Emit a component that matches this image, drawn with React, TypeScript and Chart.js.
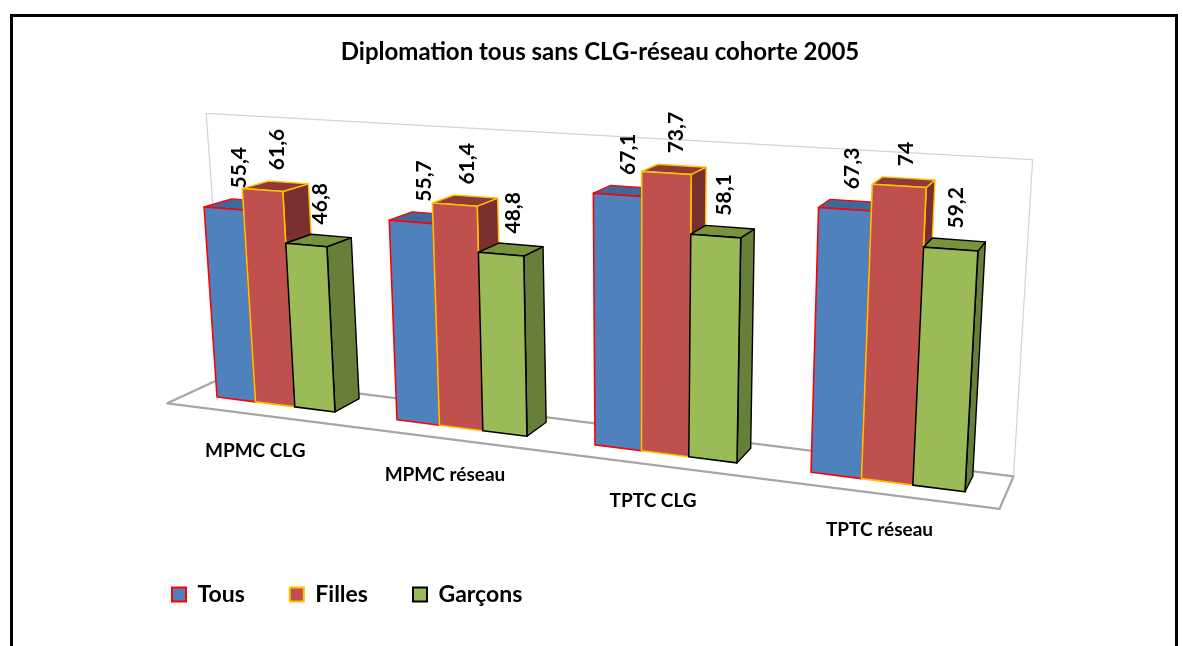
import { useEffect, useRef } from "react";
import { Chart, registerables } from "chart.js";

Chart.register(...registerables);

// ---- data ----
const categories = ["MPMC CLG", "MPMC réseau", "TPTC CLG", "TPTC réseau"];
const seriesNames = ["Tous", "Filles", "Garçons"];
const tous = [55.4, 55.7, 67.1, 67.3];
const filles = [61.6, 61.4, 73.7, 74];
const garcons = [46.8, 48.8, 58.1, 59.2];
const valueMin = 0;
const valueMax = 80;
const chartTitle = "Diplomation tous sans CLG-réseau cohorte 2005";

// ---- styles ----
const seriesStyles = [
  { front: "#4F81BD", top: "#3D6A9C", side: "#2F5686", edge: "#FF0000" },
  { front: "#C0504D", top: "#8E3A38", side: "#79302E", edge: "#FFC000" },
  { front: "#9BBB59", top: "#77933C", side: "#66803A", edge: "#000000" },
];
const FONT = "Lato";

// ---- 3D projection parameters (screen geometry of the perspective scene) ----
const GEO = {
  baseX0: 188.75,
  baseX1: 168,
  baseX2: 9,
  refX: 217,
  refY: 397,
  floorSlope: 0.1267,
  unitH0: 3.43,
  unitH1: 0.00085,
  lean0: -0.068,
  lean1: 0.0001627,
  vpX: 1263,
  vpY: -103,
  floorFront: -0.02,
  barBack: 0.026,
  wall: 0.034,
  labelDrop: 36,
  valueGap: 16,
};

function frontPt(xw: number, v: number) {
  const sx = GEO.baseX0 + GEO.baseX1 * xw + GEO.baseX2 * xw * xw;
  const sy = GEO.refY + GEO.floorSlope * (sx - GEO.refX);
  const h = v * (GEO.unitH0 + GEO.unitH1 * (sx - GEO.refX));
  const lean = GEO.lean0 + GEO.lean1 * (sx - GEO.refX);
  return { x: sx + lean * h, y: sy - h };
}

function pt(xw: number, v: number, d: number) {
  const p = frontPt(xw, v);
  return { x: p.x + d * (GEO.vpX - p.x), y: p.y + d * (GEO.vpY - p.y) };
}

function poly(ctx: CanvasRenderingContext2D, pts: { x: number; y: number }[], fill: string | null, stroke: string | null, lw: number) {
  ctx.beginPath();
  ctx.moveTo(pts[0].x, pts[0].y);
  for (let i = 1; i < pts.length; i++) ctx.lineTo(pts[i].x, pts[i].y);
  ctx.closePath();
  if (fill) {
    ctx.fillStyle = fill;
    ctx.fill();
  }
  if (stroke) {
    ctx.strokeStyle = stroke;
    ctx.lineWidth = lw;
    ctx.stroke();
  }
}

const fmt = (v: number) => String(v).replace(".", ",");

const scenePlugin = {
  id: "scene3d",
  beforeDatasetDraw() {
    return false;
  },
  afterDatasetsDraw(chart: any) {
    const ctx: CanvasRenderingContext2D = chart.ctx;
    const area = chart.chartArea;
    const xScale = chart.scales.x;
    const yScale = chart.scales.y;
    const n = chart.data.labels.length;
    const toXw = (px: number) => ((px - area.left) / (area.right - area.left)) * n;
    const vTop = yScale.max;
    const vBot = yScale.min;

    ctx.save();
    ctx.lineJoin = "round";

    // back wall
    poly(
      ctx,
      [pt(0, vBot, GEO.wall), pt(n, vBot, GEO.wall), pt(n, vTop, GEO.wall), pt(0, vTop, GEO.wall)],
      "#FFFFFF",
      "#D4D4D4",
      1.2
    );
    // floor
    poly(
      ctx,
      [pt(0, vBot, GEO.floorFront), pt(n, vBot, GEO.floorFront), pt(n, vBot, GEO.wall), pt(0, vBot, GEO.wall)],
      "#FFFFFF",
      "#A6A6A6",
      2.2
    );

    const labelsToDraw: { x: number; y: number; t: string }[] = [];
    // bars, left to right
    for (let i = 0; i < n; i++) {
      for (let d = 0; d < chart.data.datasets.length; d++) {
        const meta = chart.getDatasetMeta(d);
        const el = meta.data[i];
        if (!el) continue;
        const xl = toXw(el.x - el.width / 2);
        const xr = toXw(el.x + el.width / 2);
        const v = yScale.getValueForPixel(el.y);
        const b = yScale.getValueForPixel(el.base);
        const st = seriesStyles[d];
        const B = GEO.barBack;
        poly(ctx, [pt(xr, b, 0), pt(xr, v, 0), pt(xr, v, B), pt(xr, b, B)], st.side, st.edge, 1.4);
        poly(ctx, [pt(xl, v, 0), pt(xr, v, 0), pt(xr, v, B), pt(xl, v, B)], st.top, st.edge, 1.4);
        poly(ctx, [pt(xl, b, 0), pt(xr, b, 0), pt(xr, v, 0), pt(xl, v, 0)], st.front, st.edge, 1.6);
        const c = pt((xl + xr) / 2, v, B / 2);
        labelsToDraw.push({ x: c.x + 2, y: c.y, t: fmt(chart.data.datasets[d].data[i]) });
      }
    }

    // value labels (rotated)
    ctx.fillStyle = "#000";
    ctx.font = `bold 21px ${FONT}`;
    ctx.textAlign = "left";
    ctx.textBaseline = "middle";
    for (const l of labelsToDraw) {
      ctx.save();
      ctx.translate(l.x, l.y - GEO.valueGap);
      ctx.rotate(-Math.PI / 2);
      ctx.fillText(l.t, 0, 0);
      ctx.restore();
    }

    // category labels
    ctx.font = `bold 19px ${FONT}`;
    ctx.textAlign = "center";
    ctx.textBaseline = "middle";
    for (let i = 0; i < n; i++) {
      const cx = toXw(xScale.getPixelForValue(i));
      const p = pt(cx, vBot, GEO.floorFront);
      ctx.fillText(chart.data.labels[i], p.x, p.y + GEO.labelDrop);
    }
    ctx.restore();
  },
};

export default function App() {
  const ref = useRef<HTMLCanvasElement>(null);
  useEffect(() => {
    const chart = new Chart(ref.current as HTMLCanvasElement, {
      type: "bar",
      data: {
        labels: categories,
        datasets: [
          { label: seriesNames[0], data: tous, backgroundColor: seriesStyles[0].front, borderColor: seriesStyles[0].edge },
          { label: seriesNames[1], data: filles, backgroundColor: seriesStyles[1].front, borderColor: seriesStyles[1].edge },
          { label: seriesNames[2], data: garcons, backgroundColor: seriesStyles[2].front, borderColor: seriesStyles[2].edge },
        ],
      },
      options: {
        responsive: true,
        maintainAspectRatio: false,
        animation: false,
        events: [],
        layout: { padding: { left: 127, right: 110, top: 0, bottom: 30 } },
        datasets: { bar: { categoryPercentage: 2 / 3, barPercentage: 1 } },
        scales: {
          x: { display: false },
          y: { display: false, min: valueMin, max: valueMax },
        },
        plugins: {
          tooltip: { enabled: false },
          title: {
            display: true,
            text: chartTitle,
            color: "#000",
            font: { family: FONT, size: 24, weight: "bold" },
            padding: { top: 38, bottom: 10 },
          },
          legend: {
            position: "bottom",
            align: "start",
            labels: {
              boxWidth: 14,
              boxHeight: 14,
              padding: 45,
              color: "#000",
              font: { family: FONT, size: 23, weight: "bold" },
              generateLabels: () =>
                seriesNames.map((name, i) => ({
                  text: name,
                  fillStyle: seriesStyles[i].front,
                  strokeStyle: seriesStyles[i].edge,
                  lineWidth: 2,
                  hidden: false,
                  datasetIndex: i,
                })),
            },
          },
        },
      },
      plugins: [scenePlugin],
    } as any);
    return () => chart.destroy();
  }, []);

  return (
    <div style={{ position: "fixed", left: 0, top: 0, width: 1183, height: 646, background: "#fff", overflow: "hidden" }}>
      <div style={{ position: "absolute", left: 0, top: 0, width: 1183, height: 646 }}>
        <canvas ref={ref} />
      </div>
      <div
        style={{
          position: "absolute",
          left: 10,
          top: 14,
          width: 1162,
          height: 700,
          border: "3px solid #000",
          pointerEvents: "none",
        }}
      />
    </div>
  );
}
